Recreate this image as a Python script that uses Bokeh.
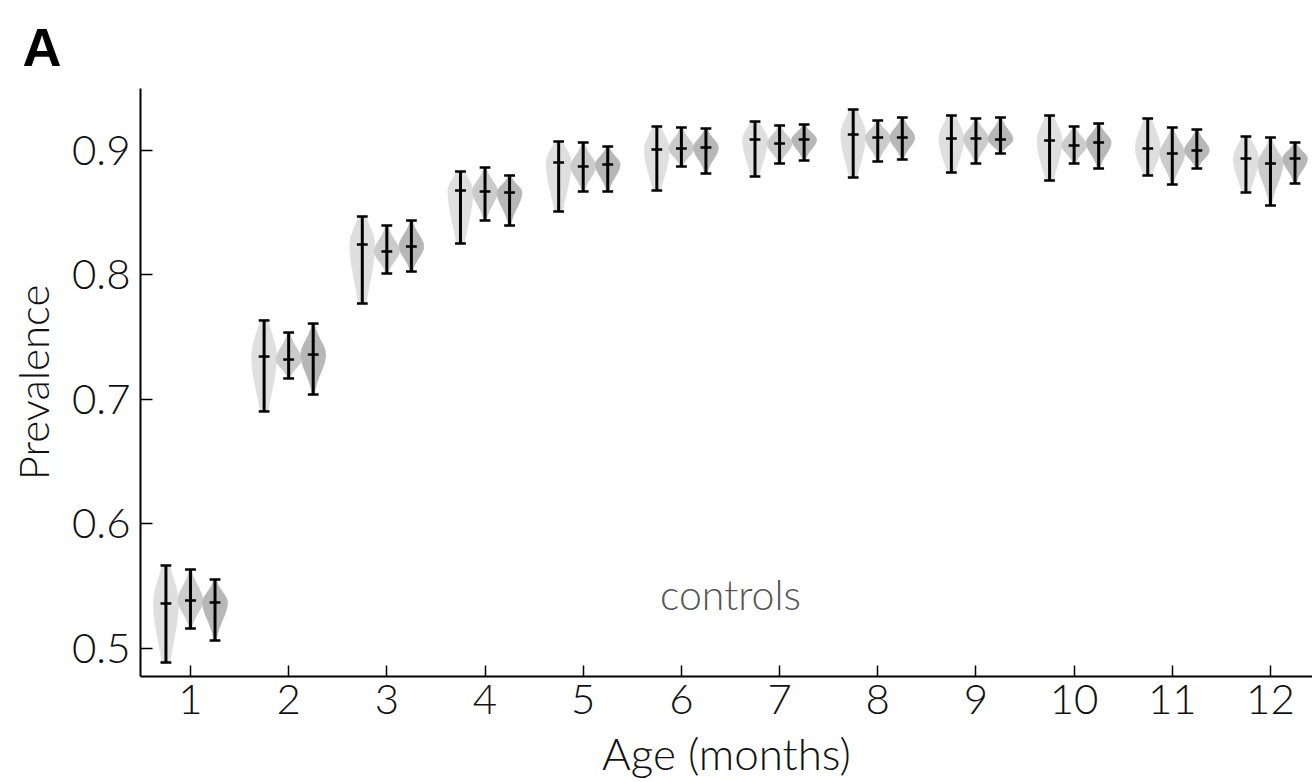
import numpy as np
from bokeh.plotting import figure
from bokeh.models import FixedTicker, Label, Title
from bokeh.embed import file_html
from bokeh.resources import INLINE

months = list(range(1, 13))
tick_labels = [str(m) for m in months]
y_ticks = [0.5, 0.6, 0.7, 0.8, 0.9]

a_min = [0.4888, 0.6904, 0.7771, 0.8253, 0.8510, 0.8679, 0.8791, 0.8783, 0.8823, 0.8759, 0.8799, 0.8663]
a_med = [0.5361, 0.7345, 0.8245, 0.8679, 0.8904, 0.9008, 0.9088, 0.9129, 0.9096, 0.9080, 0.9016, 0.8936]
a_max = [0.5667, 0.7635, 0.8470, 0.8831, 0.9072, 0.9193, 0.9233, 0.9329, 0.9281, 0.9281, 0.9257, 0.9112]

b_min = [0.5161, 0.7169, 0.8012, 0.8438, 0.8671, 0.8871, 0.8896, 0.8912, 0.8896, 0.8896, 0.8727, 0.8558]
b_med = [0.5386, 0.7321, 0.8189, 0.8671, 0.8871, 0.9016, 0.9056, 0.9104, 0.9096, 0.9040, 0.8976, 0.8896]
b_max = [0.5635, 0.7538, 0.8398, 0.8863, 0.9064, 0.9185, 0.9201, 0.9241, 0.9257, 0.9193, 0.9185, 0.9104]

c_min = [0.5064, 0.7040, 0.8028, 0.8398, 0.8671, 0.8815, 0.8920, 0.8928, 0.8976, 0.8855, 0.8855, 0.8735]
c_med = [0.5369, 0.7361, 0.8229, 0.8663, 0.8888, 0.9024, 0.9088, 0.9104, 0.9088, 0.9064, 0.9000, 0.8936]
c_max = [0.5554, 0.7610, 0.8438, 0.8799, 0.9032, 0.9177, 0.9209, 0.9265, 0.9265, 0.9217, 0.9169, 0.9064]

groups = [
    dict(mins=a_min, meds=a_med, maxs=a_max, off=-0.25, color="#dfdfdf", k=1.55),
    dict(mins=b_min, meds=b_med, maxs=b_max, off=0.0, color="#cbcbcb", k=2.2),
    dict(mins=c_min, meds=c_med, maxs=c_max, off=0.25, color="#b7b7b7", k=2.2),
]

HALF_W = 0.125
CAP_W = 0.055

p = figure(width=1312, height=782, output_backend="svg", toolbar_location=None,
           x_range=(0.491, 12.428), y_range=(0.4775, 0.9498),
           min_border_left=140, min_border_right=0, min_border_top=88, min_border_bottom=106)
p.outline_line_color = None
p.xgrid.visible = False
p.ygrid.visible = False
p.background_fill_color = "white"


def outline(xc, lo, med, hi, k):
    su = max(hi - med, 1e-4) / k
    sd = max(med - lo, 1e-4) / k
    ys = np.linspace(lo, hi, 60)
    s = np.where(ys >= med, su, sd)
    w = HALF_W * np.exp(-0.5 * ((ys - med) / s) ** 2)
    xs = np.concatenate([xc + w, (xc - w)[::-1]])
    yy = np.concatenate([ys, ys[::-1]])
    return list(xs), list(yy)


for g in groups:
    xs_all, ys_all = [], []
    for m, lo, md, hi in zip(months, g["mins"], g["meds"], g["maxs"]):
        xs, ys = outline(m + g["off"], lo, md, hi, g["k"])
        xs_all.append(xs)
        ys_all.append(ys)
    p.patches(xs_all, ys_all, fill_color=g["color"], line_color=g["color"], line_width=1)

for g in groups:
    xc = [m + g["off"] for m in months]
    p.segment(xc, g["mins"], xc, g["maxs"], line_color="black", line_width=3)
    for vals in (g["mins"], g["maxs"], g["meds"]):
        p.segment([x - CAP_W for x in xc], vals, [x + CAP_W for x in xc], vals,
                  line_color="black", line_width=2.5)

FONT = "Lato Light"

for ax in (p.xaxis[0], p.yaxis[0]):
    ax.axis_line_width = 2
    ax.axis_line_color = "black"
    ax.major_tick_out = 0
    ax.major_tick_line_width = 1.5
    ax.minor_tick_line_color = None
    ax.major_label_text_font = FONT
    ax.major_label_text_font_size = "42px"
    ax.major_label_text_color = "#111111"
    ax.axis_label_text_font = FONT
    ax.axis_label_text_font_style = "normal"
    ax.axis_label_text_color = "#111111"

p.xaxis.ticker = FixedTicker(ticks=months)
p.xaxis.major_label_overrides = {m: t for m, t in zip(months, tick_labels)}
p.xaxis.major_tick_in = 11
p.xaxis.major_label_standoff = 8
p.xaxis.axis_label = "Age (months)"
p.xaxis.axis_label_text_font_size = "44px"
p.xaxis.axis_label_standoff = 10

p.yaxis.ticker = FixedTicker(ticks=y_ticks)
p.yaxis.major_tick_in = 12
p.yaxis.major_label_standoff = 10
p.yaxis.axis_label = "Prevalence"
p.yaxis.axis_label_text_font_size = "42px"
p.yaxis.axis_label_standoff = 11

p.add_layout(Label(x=6.5, y=0.543, text="controls", text_align="center", text_baseline="middle",
                   text_font=FONT, text_font_size="41px", text_color="#555555"))
p.add_layout(Title(text="A", align="left", vertical_align="top", offset=-118, standoff=20,
                   text_font="Liberation Sans", text_font_style="bold", text_font_size="54px",
                   text_color="black"), "above")

open("out.html", "w").write(file_html(p, INLINE))
